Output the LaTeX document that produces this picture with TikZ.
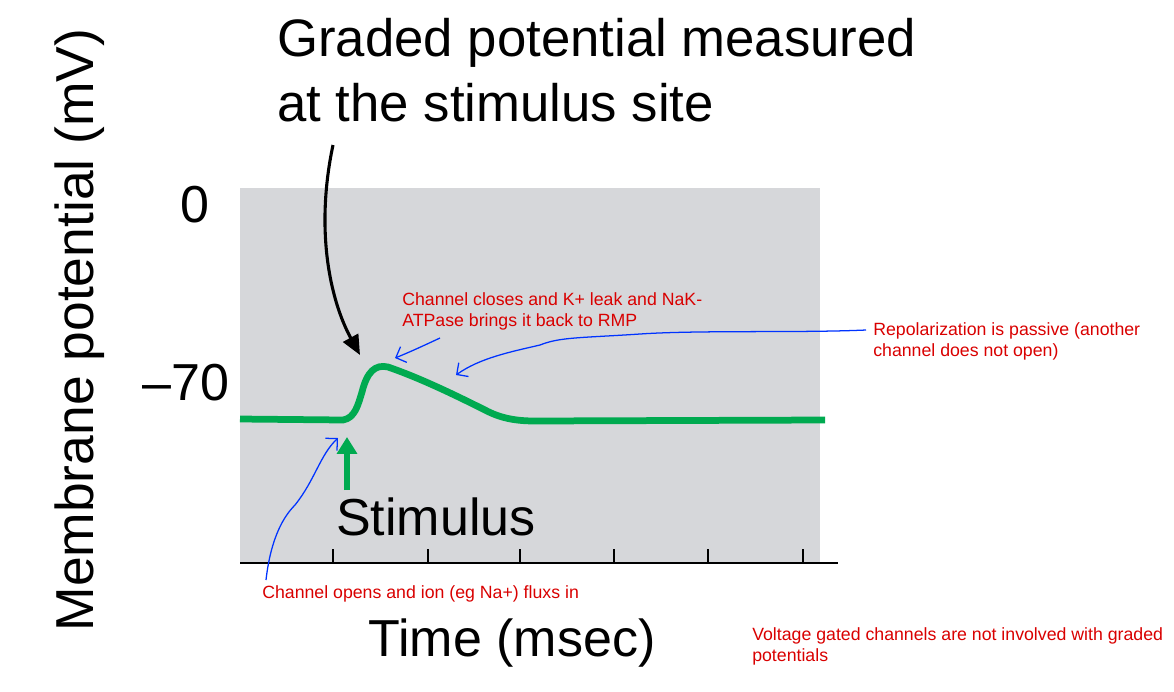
\documentclass[tikz,border=0pt]{standalone}
\usepackage{fontspec}
\setmainfont{Liberation Sans}
\usetikzlibrary{arrows.meta}
\definecolor{gstim}{RGB}{0,170,80}
\definecolor{bgg}{RGB}{214,215,218}
\begin{document}
\begin{tikzpicture}[x=0.025cm,y=-0.025cm,
  big/.style={font=\fontsize{37}{45}\selectfont},
  note/.style={font=\fontsize{12.6}{15.5}\selectfont,text=red!85!black,align=left,inner sep=0},
  blue/.style={draw=blue!80!cyan,line width=0.9pt},
  tick/.style={line width=1pt}]
\useasboundingbox (0,0) rectangle (1174,691);
\fill[bgg] (240,188) rectangle (820,562);
\draw[line width=1.8pt] (240,563) -- (838,563);
\foreach \x in {333,428,520,614,708,803} \draw[tick] (\x,563) -- (\x,549);
\draw[gstim,line width=4.8pt,line join=round]
 (240,419) -- (343,420) .. controls (355,418) and (358,405) .. (362,392)
 .. controls (367,372) and (375,364) .. (388,367)
 .. controls (420,378) and (455,395) .. (485,410)
 .. controls (500,418) and (515,421) .. (535,421) -- (825,420);
\draw[gstim,line width=4pt,-{Triangle[length=12pt,width=14pt]}] (347,490) -- (347,437);
\node[anchor=north west,align=left,inner sep=0,font=\fontsize{37.5}{46}\selectfont] (title) at (277,18) {Graded potential measured\\at the stimulus site};
\coordinate (tip) at (360,355);
\draw[line width=2.2pt,-{Triangle[length=14pt,width=12pt]}] (333,145) .. controls (315,230) and (330,300) .. (tip);
\node[big] (zero) at (195,205) {0};
\node[big] (m70) at (186,383) {\textendash70};
\node[big] (stim) at (436,517) {Stimulus};
\node[big] (time) at (512,643) {Time (msec)};
\node[big,rotate=90,font=\fontsize{38}{45}\selectfont] (ylab) at (80,330) {Membrane potential (mV)};
\node[note,anchor=north west] (n1) at (402,292) {Channel closes and K+ leak and NaK-\\ATPase brings it back to RMP};
\node[note,anchor=north west] (n2) at (873,322) {Repolarization is passive (another\\channel does not open)};
\node[note,anchor=north west] (n3) at (262,585) {Channel opens and ion (eg Na+) fluxs in};
\node[note,anchor=north west] (n4) at (752,627) {Voltage gated channels are not involved with graded\\potentials};
\coordinate (b1s) at (266,580);
\coordinate (b1e) at (338,438);
\draw[blue,-{Straight Barb[length=6pt]}] (b1s) .. controls (270,545) and (280,520) .. (295,505) .. controls (315,480) and (320,455) .. (b1e);
\draw[blue,-{Straight Barb[length=6pt]}] (440,338) .. controls (425,345) and (410,352) .. (395,358);
\draw[blue,-{Straight Barb[length=6pt]}] (866,330) .. controls (800,333) and (700,330) .. (640,334) .. controls (580,338) and (560,337) .. (540,345) .. controls (510,352) and (480,358) .. (456,375);
\end{tikzpicture}
\end{document}
